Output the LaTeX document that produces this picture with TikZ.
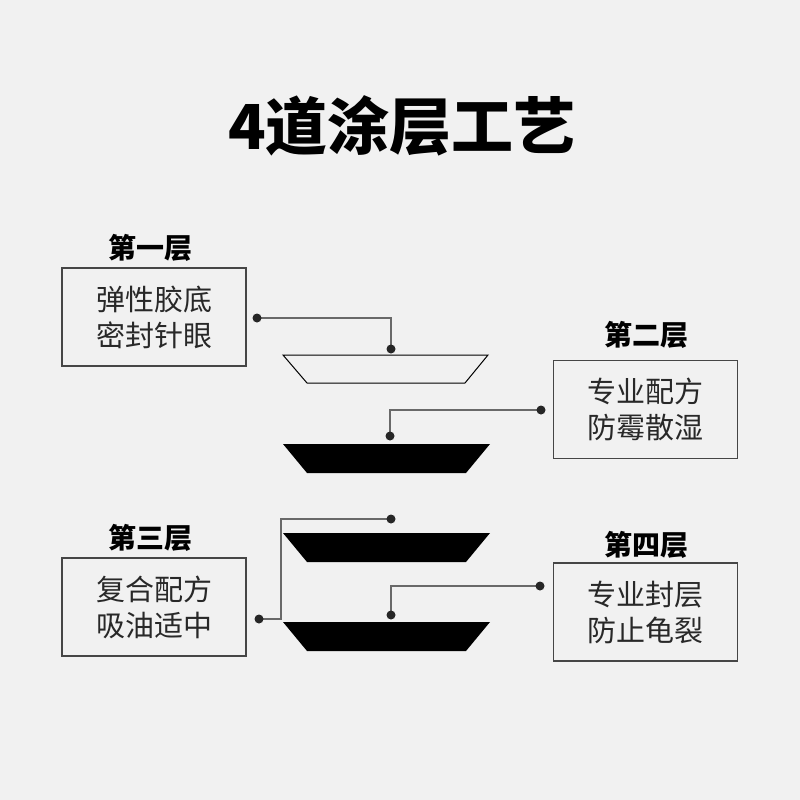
\documentclass[tikz,border=0pt]{standalone}
\usepackage{fontspec}
\usepackage{tikz}
\usetikzlibrary{positioning}
\newfontfamily\cjk{Noto Sans CJK SC}
\definecolor{pagegray}{RGB}{241,241,241}
\definecolor{wiregray}{RGB}{105,105,105}
\definecolor{boxgray}{RGB}{70,70,70}
\definecolor{textgray}{RGB}{40,40,40}

\begin{document}
\begin{tikzpicture}[x=1pt, y=-1pt,
  layerbox/.style={draw=boxgray, line width=1.2pt, minimum width=184pt, minimum height=98pt, align=center, text=textgray, inner sep=0pt, font=\cjk\fontsize{29}{36}\selectfont},
  layertag/.style={inner sep=0pt, font=\cjk\bfseries\fontsize{28}{30}\selectfont},
  wire/.style={wiregray, line width=1.5pt},
  pan/.style={black, line width=1pt}]
  \fill[pagegray] (0,0) rectangle (800,800);
  \useasboundingbox (0,0) rectangle (800,800);
  \node[inner sep=0pt, font=\cjk\bfseries\fontsize{62}{66}\selectfont] (title) at (402,126) {4道涂层工艺};
  % layer boxes and their tags
  \node[layerbox] (b1) at (154,317) {弹性胶底\\密封针眼};
  \node[layerbox] (b2) at (645.5,409.5) {专业配方\\防霉散湿};
  \node[layerbox] (b3) at (154,607) {复合配方\\吸油适中};
  \node[layerbox] (b4) at (645.5,612) {专业封层\\防止龟裂};
  \node[layertag] (t1) at (150,248) {第一层};
  \node[layertag] (t2) at (646,335) {第二层};
  \node[layertag] (t3) at (150,538) {第三层};
  \node[layertag] (t4) at (646,545) {第四层};
  % the four coats
  \draw[pan] (283,355) -- (488,355) -- (465,383) -- (307,383) -- cycle;
  \foreach \y in {444,533,622} {
    \fill[pan] (283,\y) -- (490,\y) -- (466,\y+29) -- (307,\y+29) -- cycle;
  }
  % pins
  \coordinate (p1a) at (257,318);
  \coordinate (p1b) at (391,349);
  \coordinate (p2a) at (541,410);
  \coordinate (p2b) at (390,436);
  \coordinate (p3a) at (259,619);
  \coordinate (p3b) at (391,519);
  \coordinate (p4a) at (540,586);
  \coordinate (p4b) at (391,615);
  \draw[wire] (p1a) -| (p1b);
  \draw[wire] (p2a) -| (p2b);
  \draw[wire] (p3a) -- ++(22,0) |- (p3b);
  \draw[wire] (p4a) -| (p4b);
  \foreach \p in {p1a,p1b,p2a,p2b,p3a,p3b,p4a,p4b} {
    \fill[black!85] (\p) circle (4.5);
  }
\end{tikzpicture}
\end{document}
